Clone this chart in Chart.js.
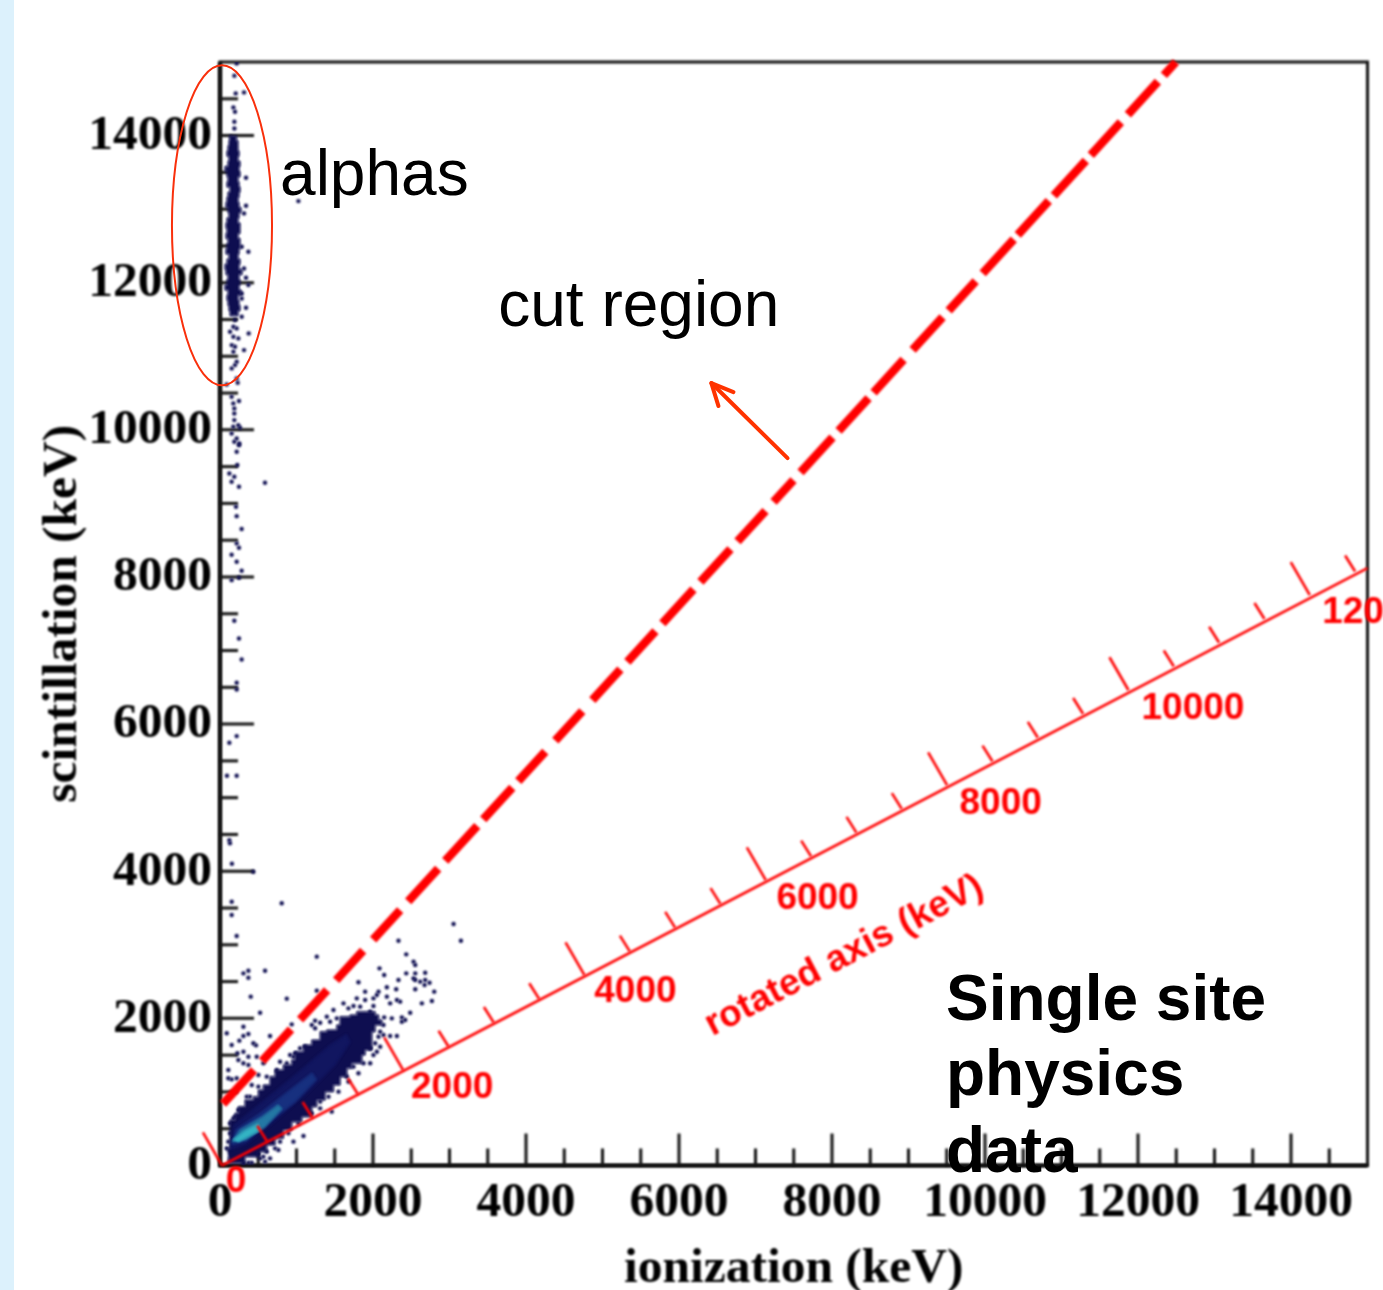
<!DOCTYPE html>
<html>
<head>
<meta charset="utf-8">
<title>Single site physics data</title>
<script src="https://cdn.jsdelivr.net/npm/chart.js@4/dist/chart.umd.min.js"></script>
<style>
  html, body { margin: 0; padding: 0; background: #fff; }
  #strip { position: absolute; left: 0; top: 0; width: 14px; height: 1290px; background: #dcf1fc; }
  #wrap { position: absolute; left: 0; top: 0; width: 1383px; height: 1290px; }
</style>
</head>
<body>
<div id="strip"></div>
<div id="wrap"><canvas id="chart"></canvas></div>
<script>
// axis
const axisMax = 15000
const axisStep = 500
const axisLabelStep = 2000

// events: [ionization, scintillation] in keV
const alphaEvents = [
  [218,14981],[188,14813],[314,14587],[205,14573],[175,14383],[196,14324],[188,14188],[188,14097],
  [340,13427],[340,13046],[314,12942],[1025,13109],[284,12489],[371,12421],[314,12194],[340,12067],
  [371,11968],[284,11854],[284,11786],[340,11660],[284,11537],[196,11492],[175,11401],[218,11379],
  [131,11333],[175,11265],[375,11311],[240,11243],[153,11152],[196,11129],[314,11084],[175,11062],
  [218,10925],[196,10880],[153,10835],[87,10617],[218,10699],[231,10640]
]
const tailEvents = [
  [152,10449],[248,10391],[174,10359],[187,10291],[187,10223],[187,10132],[239,10064],[174,10042],
  [261,10028],[152,9951],[218,9883],[187,9838],[252,9815],[218,9702],[248,9792],[226,9521],[122,9407],
  [187,9362],[152,9294],[588,9280],[248,9226],[209,8954],[218,8827],[283,8651],[218,8456],[248,8397],
  [152,8302],[218,8207],[283,8084],[248,7989],[152,7957],[187,7405],[248,7164],[283,6879],[218,6562],
  [218,6471],[218,5837],[122,5746],[91,5298],[218,5298],[122,4423],[130,4380],[156,4101],[436,3993]
]
const lowEvents = [
  [153,3586],[807,3564],[153,3405],[218,3120],[1265,2839],[306,2612],[371,2648],[371,2553],[589,2648],
  [402,2295],[873,2268],[524,2077],[306,1887],[88,1797],[371,1788],[306,1760],[253,1697],[153,1638],
  [436,1661],[654,1760],[471,1633],[227,1525],[306,1547],[371,1479],[240,1434],[480,1479],[306,1389],
  [109,1298],[153,1171],[218,1185],[109,1185],[371,1366],[1265,2377],[938,1919],
  [3053,3283],[3149,3056],[2333,3056],[2434,2870],[2530,2771],[2552,2725],[2085,2680],[2146,2590],
  [2333,2522],[2434,2612],[2552,2612],[2682,2621],[2530,2544],[2552,2522],[2617,2499],[2682,2522],
  [2739,2485],[2674,2454],[1810,2490],[1897,2363],[2181,2422],[2303,2395],[2072,2363],[2050,2318],
  [2552,2395],[2800,2363],[1788,2272],[1897,2250],[2006,2272],[2181,2295],[2312,2250],[2355,2227],
  [2639,2204],[2770,2236],[1614,2204],[1745,2168],[1483,2114],[2006,2168],[2224,2204],[2486,2077],
  [2246,2000],[2377,2014],[2421,1978],[2377,1955],[2146,2014],[1243,1969],[1396,2023],[1200,1910],
  [1243,1865],[1309,1941],[2137,1774],[2224,1760],[2312,1760],[2072,1751],[2094,1615],[2050,1547],
  [1963,1593],[1963,1389],[1810,1253],[1658,1208],[1309,777],[1461,732],[1091,401],[524,97],[589,52],
  [654,97],[764,211],[960,324],[785,324],[916,1502],[785,1411],[567,1389],[502,1230],[415,1094],
  [349,936],[306,755],[240,755],[175,641],[131,573],[109,324],[415,39],[371,39],[306,30],[502,156],
  [1047,1593],[981,1525],[1527,2000],[1439,1955],[1679,2136],[1832,2159],[1963,2091],[2137,1910],
  [2094,1819],[2028,1661],[2006,1502],[1876,1389],[1745,1344],[1679,1140],[1549,1004],[1418,936],
  [1309,868],[1200,709],[1025,573],[894,437],[720,233],[611,188],[567,120],[88,233],[131,437],[197,664],
  [393,936],[502,1072],[611,1208],[742,1298],[873,1389],[960,1479],[1112,1615]
]

// outline of the dense parts, one ring per colour step
const alphaBand = [
  [160,14000],[125,13930],[118,13860],[105,13790],[92,13720],[118,13650],[105,13580],[66,13510],[92,13440],
  [105,13370],[92,13300],[131,13230],[105,13160],[92,13090],[79,13020],[105,12950],[118,12880],[92,12810],
  [79,12740],[92,12670],[79,12600],[105,12530],[92,12460],[79,12390],[118,12320],[92,12250],[66,12180],
  [79,12110],[105,12040],[92,11970],[66,11900],[105,11830],[92,11760],[105,11690],[118,11620],[131,11550],
  [215,11550],[236,11620],[262,11690],[249,11760],[236,11830],[275,11900],[249,11970],[262,12040],[249,12110],
  [288,12180],[249,12250],[262,12320],[236,12390],[249,12460],[262,12530],[262,12600],[236,12670],[262,12740],
  [262,12810],[236,12880],[249,12950],[275,13020],[249,13090],[236,13160],[249,13230],[262,13300],[249,13370],
  [235,13440],[262,13510],[249,13580],[262,13650],[235,13720],[249,13790],[235,13860],[235,13930],[215,14000]
]
const cloudOuter = [
  [88,233],[131,437],[131,618],[197,709],[240,800],[327,890],[436,936],[502,1026],[567,1094],[654,1208],
  [720,1298],[829,1366],[938,1434],[981,1547],[1091,1638],[1200,1706],[1309,1819],[1396,1842],[1527,1910],
  [1570,2023],[1701,2046],[1788,2091],[1919,2091],[2028,2046],[2072,1978],[2115,1910],[2028,1819],[1985,1706],
  [1985,1570],[1897,1502],[1854,1389],[1723,1321],[1658,1208],[1570,1094],[1483,1004],[1374,890],[1265,800],
  [1200,664],[1069,596],[938,483],[829,369],[720,279],[611,188],[502,120],[327,30],[175,30],[109,120]
]
const cloudBlue = [
  [131,211],[183,551],[550,863],[981,1230],[1439,1638],[1650,1780],[1700,1680],[1505,1366],[1112,958],
  [654,551],[327,279]
]
const cloudMid = [
  [157,279],[209,483],[550,727],[916,1026],[1203,1257],[1260,1170],[981,863],[589,551],[327,320]
]
const cloudTeal = [
  [157,319],[262,483],[550,659],[759,822],[810,770],[589,524],[327,347]
]
const cloudCore = [
  [170,347],[327,469],[497,564],[523,483],[353,387],[235,319]
]

// red overlay: each dash of the cut line as [x1,y1,x2,y2]
const cutDashes = [
  [39,837,445,1298],[550,1418,929,1849],[1047,1983,1400,2384],[1518,2518,1871,2920],[2002,3069,2355,3470],
  [2460,3589,2852,4035],[2944,4140,3363,4616],[3441,4705,3821,5137],[3899,5226,4252,5627],[4383,5776,4736,6177],
  [4867,6326,5234,6743],[5325,6847,5692,7264],[5783,7368,6189,7830],[6280,7933,6673,8380],[6765,8484,7131,8900],
  [7236,9020,7497,9316],[7589,9421,8007,9897],[8086,9986,8478,10432],[8544,10507,8936,10953],[9054,11087,9446,11533],
  [9525,11622,9878,12023],[9970,12128,10376,12590],[10428,12649,10834,13111],[10899,13185,11318,13661],
  [11383,13735,11776,14182],[11867,14285,12260,14732],[12338,14820,12495,15000]
]
const rotatedOrigin = [26,0]
const rotatedEnd = [15000,8121]
const rotatedPerUnit = [1.185,0.646]
const rotatedMajorTicks = [0,2000,4000,6000,8000,10000,12000]
const rotatedMinorTicks = [500,1000,1500,2500,3000,3500,4500,5000,5500,6500,7000,7500,8500,9000,9500,10500,11000,11500,12500]
const rotatedLabels = [
  ['0',209,-220],['2000',3035,1053],['4000',5430,2358],['6000',7811,3622],
  ['8000',10205,4913],['10000',12718,6204],['120',14811,7509]
]

const toPoints = rows => rows.map(r => ({x: r[0], y: r[1]}))

function dashPath(rows) {
  let path = []
  rows.forEach(d => path.push({x: d[0], y: d[1]}, {x: d[2], y: d[3]}, {x: null, y: null}))
  return path
}

function rotatedTickPath(ticks, dx, dy) {
  let path = []
  ticks.forEach(t => {
    let px = rotatedOrigin[0] + t * rotatedPerUnit[0]
    let py = rotatedOrigin[1] + t * rotatedPerUnit[1]
    path.push({x: px, y: py}, {x: px + dx, y: py + dy}, {x: null, y: null})
  })
  return path
}

function ringDataset(label, rows, color, stepped) {
  return {
    label: label,
    data: toPoints(rows),
    showLine: true,
    fill: 'shape',
    stepped: stepped || false,
    backgroundColor: color,
    borderColor: color,
    borderWidth: 1,
    pointRadius: 0
  }
}

function redLine(label, data, width) {
  return {
    label: label,
    data: data,
    showLine: true,
    fill: false,
    borderColor: '#ff0000',
    borderWidth: width,
    pointRadius: 0,
    clip: false,
    spanGaps: false
  }
}

function eventDataset(label, rows) {
  return {label: label, data: toPoints(rows), backgroundColor: navy, pointRadius: 2.2, borderWidth: 0}
}

const navy = '#0e0e50'

// the source is an upscaled ROOT plot: everything but the pasted notes is soft
const softBlur = 'blur(1px)'
const softDraw = {
  id: 'softDraw',
  beforeDraw(chart) { chart.ctx.filter = softBlur },
  afterDraw(chart) { chart.ctx.filter = 'none' }
}

const insideTicks = {
  id: 'insideTicks',
  beforeDatasetsDraw(chart) {
    const ctx = chart.ctx
    const {left, right, top, bottom} = chart.chartArea
    ctx.save()
    ctx.strokeStyle = '#111'
    ctx.lineWidth = 3
    chart.scales.x.ticks.forEach(t => {
      if (t.value === 0 || t.value === axisMax) return
      let len = t.value % axisLabelStep === 0 ? 32 : 17
      let px = chart.scales.x.getPixelForValue(t.value)
      ctx.beginPath(); ctx.moveTo(px, bottom); ctx.lineTo(px, bottom - len); ctx.stroke()
    })
    chart.scales.y.ticks.forEach(t => {
      if (t.value === 0 || t.value === axisMax) return
      let len = t.value % axisLabelStep === 0 ? 34 : 18
      let py = chart.scales.y.getPixelForValue(t.value)
      ctx.beginPath(); ctx.moveTo(left, py); ctx.lineTo(left + len, py); ctx.stroke()
    })
    ctx.strokeStyle = '#111'
    ctx.lineWidth = 3
    ctx.strokeRect(left, top, right - left, bottom - top)
    ctx.lineWidth = 3.5
    ctx.beginPath(); ctx.moveTo(left, top); ctx.lineTo(left, bottom); ctx.lineTo(right, bottom); ctx.stroke()
    ctx.restore()
  }
}

const annotations = {
  id: 'annotations',
  afterDatasetsDraw(chart) {
    const ctx = chart.ctx
    const xs = chart.scales.x, ys = chart.scales.y
    const X = v => xs.getPixelForValue(v), Y = v => ys.getPixelForValue(v)
    ctx.save()

    // red numbers of the rotated axis
    ctx.fillStyle = '#ff0000'
    ctx.font = 'bold 37px "Liberation Sans"'
    ctx.textAlign = 'center'
    ctx.textBaseline = 'middle'
    rotatedLabels.forEach(l => ctx.fillText(l[0], X(l[1]), Y(l[2])))
    ctx.save()
    ctx.translate(X(8160), Y(2850))
    ctx.rotate(-27.6 * Math.PI / 180)
    ctx.fillText('rotated axis (keV)', 0, 0)
    ctx.restore()

    // from here on the marks were pasted over the plot and stay sharp
    ctx.filter = 'none'

    // alpha ring and arrow
    ctx.strokeStyle = '#f9300c'
    ctx.lineWidth = 2
    ctx.beginPath()
    ctx.ellipse(X(26), Y(12780), X(654) - X(0), Y(0) - Y(2175), 0, 0, Math.PI * 2)
    ctx.stroke()
    ctx.strokeStyle = '#ff3300'
    ctx.lineWidth = 4
    ctx.lineCap = 'round'
    ctx.lineJoin = 'round'
    ctx.beginPath()
    ctx.moveTo(X(7419), Y(9616)); ctx.lineTo(X(6423), Y(10636))
    ctx.stroke()
    ctx.beginPath()
    ctx.moveTo(X(6712), Y(10513)); ctx.lineTo(X(6423), Y(10636)); ctx.lineTo(X(6516), Y(10323))
    ctx.stroke()

    // pasted captions
    ctx.fillStyle = '#000'
    ctx.textAlign = 'left'
    ctx.textBaseline = 'alphabetic'
    ctx.font = '64px "Liberation Sans"'
    ctx.fillText('alphas', X(785), Y(13190))
    ctx.fillText('cut region', X(3637), Y(11411))
    ctx.font = 'bold 64px "Liberation Sans"'
    ctx.fillText('Single site', X(9490), Y(1978))
    ctx.fillText('physics', X(9490), Y(958))
    ctx.fillText('data', X(9490), Y(-88))
    ctx.restore()
  }
}

const tickFont = {family: '"Liberation Serif"', weight: 'bold', size: 49.5, lineHeight: 1}
const titleFont = {family: '"Liberation Serif"', weight: 'bold', size: 49.5, lineHeight: 1}

function axisOptions(titleText, titlePadding, labelPadding, labelOffset, boxSide, boxSize) {
  return {
    type: 'linear',
    min: 0,
    max: axisMax,
    border: {display: false},
    grid: {display: false, drawTicks: false},
    ticks: {
      stepSize: axisStep,
      autoSkip: false,
      maxRotation: 0,
      padding: labelPadding,
      labelOffset: labelOffset,
      color: '#000',
      font: tickFont,
      callback: v => (v % axisLabelStep === 0 ? String(v) : '')
    },
    title: {display: true, text: titleText, color: '#000', font: titleFont, padding: titlePadding},
    afterFit(scale) { scale[boxSide] = boxSize }
  }
}

new Chart(document.getElementById('chart'), {
  type: 'scatter',
  data: {
    datasets: [
      redLine('cut', dashPath(cutDashes), 8.5),
      redLine('rotated axis', toPoints([rotatedOrigin, rotatedEnd]), 2.6),
      redLine('rotated major', rotatedTickPath(rotatedMajorTicks, -249, 449), 2.6),
      redLine('rotated minor', rotatedTickPath(rotatedMinorTicks, -131, 217), 2.6),
      ringDataset('core', cloudCore, '#34b4c4'),
      ringDataset('teal', cloudTeal, '#2478a4'),
      ringDataset('mid', cloudMid, '#17307f'),
      ringDataset('blue', cloudBlue, '#111660'),
      ringDataset('cloud', cloudOuter, navy, true),
      ringDataset('alpha band', alphaBand, navy, true),
      eventDataset('alpha events', alphaEvents),
      eventDataset('tail events', tailEvents),
      eventDataset('low events', lowEvents)
    ]
  },
  options: {
    responsive: true,
    maintainAspectRatio: false,
    animation: false,
    layout: {padding: {left: 0, right: 15.5, top: 62, bottom: 0}},
    plugins: {legend: {display: false}, tooltip: {enabled: false}},
    scales: {
      x: axisOptions('ionization (keV)', {top: 0, bottom: -4}, 13, 0, 'height', 124.5),
      y: axisOptions('scintillation (keV)', {top: 38, bottom: 0}, 8, 0.5, 'width', 220)
    }
  },
  plugins: [softDraw, insideTicks, annotations]
})
</script>
</body>
</html>
